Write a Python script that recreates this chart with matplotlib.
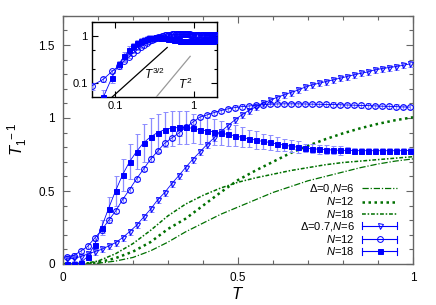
import numpy as np
import matplotlib
matplotlib.use("Agg")
import matplotlib.pyplot as plt
from matplotlib.lines import Line2D
from matplotlib.legend_handler import HandlerBase
from matplotlib.ticker import MultipleLocator, FixedLocator, NullFormatter, NullLocator

# ---------------- data ----------------
T = [0.01, 0.03, 0.05, 0.07, 0.09, 0.11, 0.13, 0.15, 0.17, 0.19,
     0.21, 0.23, 0.25, 0.27, 0.29, 0.31, 0.33, 0.35, 0.37, 0.39,
     0.41, 0.43, 0.45, 0.47, 0.49, 0.51, 0.53, 0.55, 0.57, 0.59,
     0.61, 0.63, 0.65, 0.67, 0.69, 0.71, 0.73, 0.75, 0.77, 0.79,
     0.81, 0.83, 0.85, 0.87, 0.89, 0.91, 0.93, 0.95, 0.97, 0.99]

# Delta = 0.7
n6_d07 = [0.035, 0.04, 0.05, 0.068, 0.084, 0.10, 0.123, 0.146, 0.18, 0.221,
          0.265, 0.32, 0.375, 0.438, 0.488, 0.548, 0.603, 0.66, 0.715, 0.765,
          0.815, 0.86, 0.905, 0.945, 0.985, 1.02, 1.05, 1.075, 1.10, 1.12,
          1.14, 1.157, 1.174, 1.19, 1.21, 1.226, 1.237, 1.249, 1.26, 1.272,
          1.283, 1.295, 1.306, 1.315, 1.329, 1.338, 1.345, 1.352, 1.36, 1.37]
n12_d07 = [0.05, 0.058, 0.087, 0.12, 0.176, 0.23, 0.298, 0.362, 0.44, 0.51,
           0.583, 0.65, 0.717, 0.772, 0.826, 0.862, 0.895, 0.935, 0.97, 1.005,
           1.02, 1.036, 1.05, 1.062, 1.071, 1.078, 1.082, 1.087, 1.091, 1.094,
           1.096, 1.097, 1.097, 1.097, 1.096, 1.095, 1.094, 1.093, 1.092, 1.091,
           1.089, 1.088, 1.086, 1.085, 1.083, 1.081, 1.08, 1.078, 1.076, 1.075]
n18_d07 = [0.00, 0.00, 0.01, 0.05, 0.13, 0.25, 0.38, 0.50, 0.61, 0.70,
           0.77, 0.83, 0.87, 0.90, 0.92, 0.93, 0.935, 0.935, 0.93, 0.92,
           0.912, 0.905, 0.897, 0.888, 0.879, 0.868, 0.858, 0.849, 0.840, 0.833,
           0.823, 0.815, 0.807, 0.800, 0.795, 0.79, 0.786, 0.783, 0.781, 0.779,
           0.778, 0.777, 0.776, 0.776, 0.776, 0.776, 0.776, 0.776, 0.776, 0.777]
n6_err = 0.02
n12_err = 0.015
n18_err = [0.01, 0.01, 0.01, 0.02, 0.03, 0.05, 0.08, 0.10, 0.11, 0.12,
           0.12, 0.13, 0.13, 0.13, 0.12, 0.12, 0.11, 0.11, 0.10, 0.10,
           0.09, 0.09, 0.08, 0.08, 0.07, 0.07, 0.06, 0.06, 0.05, 0.05,
           0.05, 0.04, 0.04, 0.04, 0.03, 0.03, 0.03, 0.03, 0.03, 0.03,
           0.02, 0.02, 0.02, 0.02, 0.02, 0.02, 0.02, 0.02, 0.02, 0.02]

# extension beyond T = 1 (inset only)
T_ext = [1.03, 1.07, 1.11, 1.15, 1.19, 1.23, 1.27, 1.31, 1.35, 1.39,
         1.43, 1.47, 1.51, 1.55, 1.59, 1.63, 1.67, 1.71, 1.75, 1.79,
         1.83, 1.87, 1.91, 1.95, 1.99]
n12_ext = [1.074, 1.073, 1.072, 1.071, 1.070, 1.070, 1.069, 1.069, 1.068, 1.068,
           1.068, 1.068, 1.068, 1.068, 1.068, 1.069, 1.069, 1.070, 1.070, 1.071,
           1.072, 1.073, 1.074, 1.075, 1.076]
n18_ext = [0.778, 0.779, 0.780, 0.781, 0.782, 0.783, 0.785, 0.786, 0.788, 0.789,
           0.791, 0.792, 0.794, 0.795, 0.797, 0.798, 0.800, 0.801, 0.803, 0.804,
           0.806, 0.807, 0.809, 0.810, 0.812]

# Delta = 0 (exact curves)
Tg = [0.0, 0.05, 0.1, 0.15, 0.2, 0.25, 0.3, 0.35, 0.4, 0.45, 0.5,
      0.55, 0.6, 0.65, 0.7, 0.75, 0.8, 0.85, 0.9, 0.95, 1.0]
n6_d0 = [0.0, 0.0, 0.005, 0.02, 0.045, 0.09, 0.15, 0.22, 0.28, 0.34, 0.39,
         0.44, 0.49, 0.53, 0.57, 0.60, 0.63, 0.66, 0.685, 0.705, 0.72]
n12_d0 = [0.0, 0.0, 0.01, 0.04, 0.085, 0.15, 0.24, 0.31, 0.40, 0.49, 0.575,
          0.64, 0.70, 0.76, 0.81, 0.855, 0.895, 0.93, 0.96, 0.985, 1.005]
n18_d0 = [0.0, 0.0, 0.02, 0.07, 0.14, 0.23, 0.33, 0.41, 0.47, 0.52, 0.56,
          0.59, 0.615, 0.64, 0.66, 0.68, 0.695, 0.705, 0.715, 0.725, 0.735]

# power-law guides in inset
guide15_T = [0.088, 0.46]
guide15_c = 1.83
guide2_T = [0.327, 0.906]
guide2_c = 0.45

# ---------------- style ----------------
plt.rcParams['font.family'] = ['Liberation Sans', 'DejaVu Sans']
plt.rcParams['mathtext.fontset'] = 'custom'
plt.rcParams['mathtext.it'] = 'Liberation Sans:italic'
plt.rcParams['mathtext.rm'] = 'Liberation Sans'
BLUE = '#0000ff'
EBLUE = '#8c8cff'
GREEN = '#007000'
FRAME = '#666666'

fig = plt.figure(figsize=(4.36, 3.05), dpi=100)
ax = fig.add_axes([63/436, 1-264/305, 350/436, 248.2/305])

def eb(a, x, y, err, marker, mfc, ms, label=None):
    return a.errorbar(x, y, yerr=err, fmt='-', color=BLUE, lw=0.6,
                      marker=marker, mfc=mfc, mec=BLUE, ms=ms, mew=0.7,
                      ecolor=EBLUE, elinewidth=0.9, capsize=1.8, capthick=0.9,
                      label=label, zorder=3)


class GnuErrHandler(HandlerBase):
    """gnuplot-like key sample: horizontal bar with end caps and a centred marker."""
    def __init__(self, marker, mfc, ms):
        super().__init__()
        self.marker, self.mfc, self.ms = marker, mfc, ms

    def create_artists(self, legend, orig_handle, xdescent, ydescent,
                       width, height, fontsize, trans):
        y = height / 2 - ydescent
        x0, x1 = -xdescent, width - xdescent
        h = 2.5
        line = Line2D([x0, x1], [y, y], color=BLUE, lw=0.8, transform=trans)
        c0 = Line2D([x0, x0], [y - h, y + h], color=BLUE, lw=0.8, transform=trans)
        c1 = Line2D([x1, x1], [y - h, y + h], color=BLUE, lw=0.8, transform=trans)
        mk = Line2D([(x0 + x1) / 2], [y], marker=self.marker, mfc=self.mfc,
                    mec=BLUE, ms=self.ms, mew=0.7, ls='none', transform=trans)
        return [line, c0, c1, mk]


l6 = ax.plot(Tg, n6_d0, color=GREEN, lw=0.9, dashes=(5, 1.5, 1, 1.5),
             label=r'$\mathit{\Delta}$=0,$N$=6')[0]
l12 = ax.plot(Tg, n12_d0, color=GREEN, lw=1.8, dashes=(1.0, 1.4),
              label=r'$N$=12')[0]
l18 = ax.plot(Tg, n18_d0, color=GREEN, lw=1.1, dashes=(2.5, 1.2, 1, 1.2),
              label=r'$N$=18')[0]
e6 = eb(ax, T, n6_d07, n6_err, 'v', 'none', 3.6, r'$\mathit{\Delta}$=0.7,$N$=6')
e12 = eb(ax, T, n12_d07, n12_err, 'o', 'none', 4.2, r'$N$=12')
e18 = eb(ax, T, n18_d07, n18_err, 's', BLUE, 3.6, r'$N$=18')

ax.set_xlim(0, 1)
ax.set_ylim(0, 1.7)
ax.xaxis.set_major_locator(FixedLocator([0, 0.5, 1]))
ax.xaxis.set_minor_locator(MultipleLocator(0.1))
ax.yaxis.set_major_locator(FixedLocator([0, 0.5, 1, 1.5]))
ax.yaxis.set_minor_locator(MultipleLocator(0.1))
ax.set_xticklabels(['0', '0.5', '1'])
ax.set_yticklabels(['0', '0.5', '1', '1.5'])
ax.tick_params(which='both', direction='in', top=True, right=True,
               color=FRAME, labelsize=8.5, pad=6)
ax.tick_params(which='major', length=5, width=0.8)
ax.tick_params(which='minor', length=3, width=0.8)
for s in ax.spines.values():
    s.set_color(FRAME)
    s.set_linewidth(1.0)
ax.set_xlabel(r'$T$', fontsize=12, labelpad=1)
ax.set_ylabel(r'$T_1^{\ -1}$', fontsize=12, labelpad=6)

leg = ax.legend(handles=[l6, l12, l18, e6, e12, e18], loc='lower right',
                bbox_to_anchor=(0.973, 0.0), frameon=False, markerfirst=False,
                fontsize=8, handlelength=3.1, labelspacing=0.02,
                handletextpad=0.7, borderaxespad=0.2,
                handler_map={e6: GnuErrHandler('v', 'none', 3.6),
                             e12: GnuErrHandler('o', 'none', 4.2),
                             e18: GnuErrHandler('s', BLUE, 3.6)})

# ---------------- inset ----------------
ai = fig.add_axes([92/436, 1-97/305, 125/436, 75/305])
ai.set_xscale('log')
ai.set_yscale('log')
Ti = T + T_ext
c_in = n12_d07 + n12_ext
s_in = n18_d07 + n18_ext
s_err_in = n18_err + [0.02] * len(T_ext)
eb(ai, Ti, c_in, n12_err, 'o', 'none', 4.2)
eb(ai, Ti, s_in, s_err_in, 's', BLUE, 3.6)
g15 = np.array(guide15_T)
g2 = np.array(guide2_T)
ai.plot(g15, guide15_c * g15 ** 1.5, color='black', lw=0.9, zorder=4)
ai.plot(g2, guide2_c * g2 ** 2, color='#999999', lw=0.9, zorder=4)
ai.text(0.32, 0.154, r'$T^{3/2}$', fontsize=8.5, ha='center', va='center')
ai.text(0.77, 0.094, r'$T^{2}$', fontsize=8.5, ha='center', va='center')
ai.set_xlim(0.05, 2)
ai.set_ylim(0.05, 2)
ai.xaxis.set_major_locator(FixedLocator([0.1, 1]))
ai.yaxis.set_major_locator(FixedLocator([0.1, 1]))
ai.set_xticklabels(['0.1', '1'])
ai.set_yticklabels(['0.1', '1'])
ai.xaxis.set_minor_locator(NullLocator())
ai.yaxis.set_minor_locator(FixedLocator([0.2, 0.5, 2]))
ai.yaxis.set_minor_formatter(NullFormatter())
ai.tick_params(which='both', direction='in', top=True, right=True,
               labelsize=8, pad=3)
ai.tick_params(which='major', length=4, width=0.8)
ai.tick_params(which='minor', length=2.5, width=0.8)
for s in ai.spines.values():
    s.set_color('black')
    s.set_linewidth(1.0)

fig.savefig('out.png', dpi=100)
